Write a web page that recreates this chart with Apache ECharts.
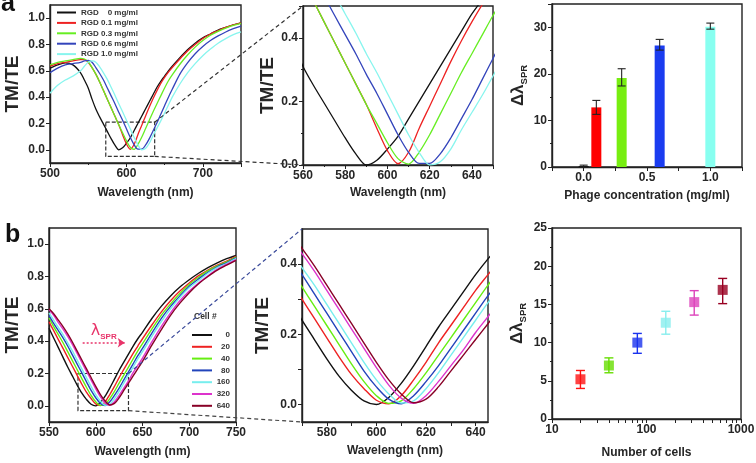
<!DOCTYPE html>
<html><head><meta charset="utf-8">
<script src="https://cdn.jsdelivr.net/npm/echarts@6/dist/echarts.min.js"></script>
<style>html,body{margin:0;padding:0;background:#fff}#c{width:756px;height:463px}</style>
</head><body><div id="c"></div>
<script>
// ---------- DATA ----------
const waveA = [500,510,520,530,540,545,550,555,560,565,570,575,580,585,590,595,600,605,610,615,620,625,630,635,640,645,650,655,660,670,680,690,700,710,720,730,740,750];
const rgd00 = [0.62,0.645,0.66,0.645,0.585,0.53,0.47,0.385,0.31,0.25,0.195,0.14,0.085,0.035,0.0,0.015,0.05,0.09,0.145,0.2,0.255,0.31,0.365,0.42,0.475,0.52,0.56,0.60,0.635,0.70,0.76,0.81,0.85,0.88,0.91,0.93,0.95,0.965];
const rgd01 = [0.635,0.655,0.665,0.675,0.685,0.685,0.665,0.625,0.575,0.515,0.45,0.385,0.32,0.255,0.19,0.115,0.045,0.004,0.04,0.115,0.185,0.255,0.325,0.39,0.45,0.505,0.55,0.59,0.625,0.69,0.75,0.80,0.845,0.88,0.905,0.93,0.95,0.965];
const rgd03 = [0.645,0.665,0.675,0.685,0.695,0.69,0.67,0.625,0.575,0.515,0.45,0.385,0.32,0.255,0.19,0.13,0.07,0.02,0.003,0.04,0.095,0.16,0.225,0.29,0.35,0.41,0.47,0.525,0.57,0.65,0.72,0.78,0.83,0.87,0.90,0.925,0.945,0.96];
const rgd06 = [0.585,0.62,0.645,0.655,0.665,0.675,0.68,0.665,0.625,0.58,0.53,0.47,0.41,0.35,0.285,0.225,0.16,0.095,0.04,0.005,0.005,0.035,0.085,0.145,0.205,0.27,0.335,0.40,0.46,0.575,0.66,0.73,0.785,0.83,0.865,0.895,0.92,0.94];
const rgd10 = [0.43,0.49,0.53,0.56,0.60,0.635,0.665,0.675,0.665,0.63,0.585,0.535,0.475,0.415,0.35,0.29,0.225,0.16,0.095,0.04,0.0,0.01,0.05,0.11,0.165,0.22,0.28,0.34,0.40,0.50,0.585,0.655,0.715,0.765,0.81,0.845,0.875,0.895];
const rgdNames = ['RGD    0 mg/ml','RGD 0.1 mg/ml','RGD 0.3 mg/ml','RGD 0.6 mg/ml','RGD 1.0 mg/ml'];

const concentrations = [0, 0.1, 0.3, 0.6, 1.0];
const shiftConc    = [0.2, 12.8, 19.1, 26.1, 30.1];
const errConcLow   = [0.0, 11.3, 17.4, 25.1, 29.6];
const errConcHigh  = [0.4, 14.3, 21.1, 27.4, 30.9];

const waveB = [550,555,560,565,570,575,580,585,590,595,600,605,610,615,620,625,630,635,640,645,650,660,670,680,690,700,710,720,730,740,750];
const cell0   = [0.48,0.42,0.36,0.30,0.24,0.185,0.13,0.08,0.04,0.01,0.0,0.02,0.06,0.11,0.165,0.22,0.27,0.32,0.37,0.415,0.455,0.54,0.615,0.68,0.735,0.78,0.82,0.855,0.885,0.91,0.93];
const cell20  = [0.52,0.465,0.41,0.355,0.30,0.245,0.19,0.135,0.085,0.045,0.012,0.002,0.025,0.07,0.12,0.175,0.225,0.275,0.325,0.37,0.415,0.50,0.58,0.65,0.71,0.76,0.805,0.84,0.87,0.895,0.925];
const cell40  = [0.545,0.49,0.44,0.39,0.335,0.28,0.225,0.17,0.115,0.065,0.025,0.003,0.01,0.045,0.09,0.14,0.19,0.24,0.29,0.34,0.385,0.475,0.56,0.63,0.695,0.75,0.795,0.835,0.865,0.89,0.92];
const cell80  = [0.56,0.51,0.465,0.42,0.37,0.315,0.26,0.205,0.15,0.095,0.05,0.015,0.002,0.025,0.065,0.11,0.16,0.21,0.26,0.31,0.355,0.45,0.54,0.615,0.68,0.74,0.785,0.825,0.86,0.885,0.915];
const cell160 = [0.575,0.53,0.485,0.44,0.39,0.34,0.285,0.23,0.175,0.12,0.07,0.03,0.004,0.01,0.045,0.09,0.14,0.19,0.24,0.29,0.335,0.43,0.52,0.60,0.67,0.73,0.775,0.82,0.855,0.88,0.91];
const cell320 = [0.595,0.56,0.515,0.475,0.43,0.38,0.325,0.27,0.215,0.16,0.105,0.055,0.018,0.003,0.025,0.065,0.11,0.155,0.205,0.25,0.295,0.395,0.49,0.575,0.65,0.71,0.76,0.805,0.845,0.875,0.905];
const cell640 = [0.60,0.57,0.53,0.49,0.445,0.395,0.34,0.285,0.23,0.175,0.12,0.07,0.03,0.005,0.015,0.05,0.095,0.14,0.185,0.23,0.275,0.375,0.47,0.56,0.635,0.70,0.755,0.80,0.84,0.87,0.90];
const cellNames = ['0','20','40','80','160','320','640'];

const cellCounts   = [20, 40, 80, 160, 320, 640];
const shiftCells   = [5.2, 7.0, 10.0, 12.6, 15.3, 16.9];
const errCellsLow  = [4.0, 6.05, 8.6, 11.1, 13.6, 15.1];
const errCellsHigh = [6.35, 8.0, 11.2, 14.1, 16.8, 18.4];

// ---------- STYLE ----------
const FONT = 'Liberation Sans, Arial, sans-serif';
const TXT = '#262626';
const colorsA = ['#111111','#ee2222','#66ee22','#3344bb','#88f5ee'];
const barColors = ['#111111','#ff0000','#77ee11','#1a3cf0','#88fff0'];
const colorsB = ['#111111','#ee2222','#66ee11','#2244bb','#77eeee','#dd33cc','#880026'];
const cellColors = ['#ff1111','#66dd00','#1a33ee','#88eeee','#dd44bb','#990022'];

function axis(grid, o) {
  const a = {
    gridIndex: grid, type: 'value',
    axisLine: {show: true, onZero: false, lineStyle: {color: '#222', width: 1.4}},
    axisTick: {show: true, length: 4, lineStyle: {color: '#222', width: 1}},
    axisLabel: {color: TXT, fontSize: 12, fontWeight: 'bold', fontFamily: FONT, margin: 5},
    splitLine: {show: false},
    nameLocation: 'middle',
    nameTextStyle: {color: TXT, fontSize: 12, fontWeight: 'bold', fontFamily: FONT}
  };
  for (const k in o) {
    if (typeof o[k] === 'object' && a[k] && !Array.isArray(o[k])) a[k] = Object.assign({}, a[k], o[k]);
    else a[k] = o[k];
  }
  return a;
}
const f1 = v => Number(v).toFixed(1);
const tmteName = {color: TXT, fontSize: 19, fontWeight: 'bold', fontFamily: FONT};
const dlName = {color: TXT, fontFamily: FONT, rich: {
  d: {fontSize: 17, lineHeight: 22, fontFamily: FONT, color: TXT},
  s: {fontSize: 9.5, lineHeight: 10, fontWeight: 'bold', fontFamily: FONT, color: TXT, verticalAlign: 'bottom'}
}};

// panel boxes: grid border gives the closed Origin-style frame
const grids = [
  {left: 50, top: 5, width: 191, height: 158},
  {left: 303, top: 6, width: 190, height: 159},
  {left: 552, top: 4, width: 190, height: 163},
  {left: 49, top: 228, width: 187, height: 194},
  {left: 302, top: 229, width: 186, height: 193},
  {left: 552, top: 228, width: 189, height: 191}
].map(g => Object.assign({show: true, borderColor: '#222', borderWidth: 1.4, backgroundColor: 'rgba(0,0,0,0)', outerBoundsMode: 'none'}, g));

const xAxes = [
  axis(0, {min: 500, max: 750, interval: 100, minorTick: {show: true, splitNumber: 2, length: 2}, axisLabel: {showMaxLabel: false}, name: 'Wavelength (nm)', nameGap: 24}),
  axis(1, {min: 560, max: 650, interval: 20, minorTick: {show: true, splitNumber: 2, length: 2}, axisLabel: {showMaxLabel: false}, name: 'Wavelength (nm)', nameGap: 22}),
  axis(2, {min: -0.25, max: 1.25, axisLabel: {customValues: [0, 0.5, 1.0], formatter: f1}, axisTick: {customValues: [-0.25, 0, 0.25, 0.5, 0.75, 1.0, 1.25]}, name: 'Phage concentration (mg/ml)', nameGap: 23}),
  axis(3, {min: 550, max: 750, interval: 50, name: 'Wavelength (nm)', nameGap: 24}),
  axis(4, {min: 570, max: 645, axisLabel: {customValues: [580, 600, 620, 640]}, axisTick: {customValues: [570, 580, 590, 600, 610, 620, 630, 640]}, name: 'Wavelength (nm)', nameGap: 23}),
  axis(5, {type: 'log', logBase: 10, min: 10, max: 1000, axisTick: {customValues: [10,20,30,40,50,60,70,80,90,100,200,300,400,500,600,700,800,900,1000]}, axisLabel: {customValues: [10, 100, 1000], formatter: v => String(Math.round(v))}, name: 'Number of cells', nameGap: 28})
].map(a => Object.assign(a, {position: 'bottom'}));

const yAxes = [
  axis(0, {min: -0.1, max: 1.1, axisLabel: {customValues: [0, 0.2, 0.4, 0.6, 0.8, 1.0], formatter: f1}, axisTick: {customValues: [0, 0.2, 0.4, 0.6, 0.8, 1.0]}, name: 'TM/TE', nameGap: 28, nameTextStyle: tmteName}),
  axis(1, {min: 0, max: 0.5, interval: 0.2, minorTick: {show: true, splitNumber: 2, length: 2}, axisLabel: {showMaxLabel: false, formatter: f1}, name: 'TM/TE', nameGap: 20, nameTextStyle: tmteName}),
  axis(2, {min: 0, max: 35, interval: 10, minorTick: {show: true, splitNumber: 2, length: 2}, axisLabel: {showMaxLabel: false}, name: '{d|Δλ}{s|SPR}', nameGap: 20, nameTextStyle: dlName}),
  axis(3, {min: -0.1, max: 1.1, axisLabel: {customValues: [0, 0.2, 0.4, 0.6, 0.8, 1.0], formatter: f1}, axisTick: {customValues: [0, 0.2, 0.4, 0.6, 0.8, 1.0]}, name: 'TM/TE', nameGap: 27, nameTextStyle: tmteName}),
  axis(4, {min: -0.05, max: 0.5, axisLabel: {customValues: [0, 0.2, 0.4], formatter: f1}, axisTick: {customValues: [0, 0.1, 0.2, 0.3, 0.4]}, name: 'TM/TE', nameGap: 30, nameTextStyle: tmteName}),
  axis(5, {min: 0, max: 25, interval: 5, minorTick: {show: true, splitNumber: 2, length: 2}, name: '{d|Δλ}{s|SPR}', nameGap: 24, nameTextStyle: dlName})
].map(a => Object.assign(a, {position: 'left'}));

const series = [];
const rgdData = [rgd00, rgd01, rgd03, rgd06, rgd10];
rgdData.forEach((arr, i) => {
  [0, 1].forEach(g => {
    const s = {
      type: 'line', name: rgdNames[i], xAxisIndex: g, yAxisIndex: g,
      data: waveA.map((w, j) => [w, arr[j]]), showSymbol: false, smooth: 0.3,
      lineStyle: {color: colorsA[i], width: 1.3}, itemStyle: {color: colorsA[i]}, z: 3
    };
    if (g === 0 && i === 0) {
      s.markArea = {silent: true, itemStyle: {color: 'rgba(0,0,0,0)', borderColor: '#333', borderWidth: 1.2, borderType: [4, 2]},
        data: [[{coord: [573, 0.21]}, {coord: [637, -0.05]}]]};
    }
    series.push(s);
  });
});

series.push({
  type: 'bar', xAxisIndex: 2, yAxisIndex: 2, barWidth: 10,
  data: concentrations.map((c, i) => ({value: [c, shiftConc[i]], itemStyle: {color: barColors[i]}}))
});
series.push({
  type: 'custom', xAxisIndex: 2, yAxisIndex: 2, z: 5,
  data: concentrations.map((c, i) => [c, errConcLow[i], errConcHigh[i]]),
  renderItem: (p, api) => {
    const x = api.value(0);
    const lo = api.coord([x, api.value(1)]);
    const hi = api.coord([x, api.value(2)]);
    const w = 4, st = {stroke: '#222', lineWidth: 1.1};
    return {type: 'group', children: [
      {type: 'line', shape: {x1: lo[0], y1: lo[1], x2: hi[0], y2: hi[1]}, style: st},
      {type: 'line', shape: {x1: hi[0]-w, y1: hi[1], x2: hi[0]+w, y2: hi[1]}, style: st},
      {type: 'line', shape: {x1: lo[0]-w, y1: lo[1], x2: lo[0]+w, y2: lo[1]}, style: st}
    ]};
  }
});

const cellData = [cell0, cell20, cell40, cell80, cell160, cell320, cell640];
cellData.forEach((arr, i) => {
  [3, 4].forEach(g => {
    const s = {
      type: 'line', name: cellNames[i], xAxisIndex: g, yAxisIndex: g,
      data: waveB.map((w, j) => [w, arr[j]]), showSymbol: false, smooth: 0.3,
      lineStyle: {color: colorsB[i], width: 1.4}, itemStyle: {color: colorsB[i]}, z: 3
    };
    if (g === 3 && i === 0) {
      s.markArea = {silent: true, itemStyle: {color: 'rgba(0,0,0,0)', borderColor: '#333', borderWidth: 1.2, borderType: [4, 2]},
        data: [[{coord: [581, 0.2]}, {coord: [635, -0.03]}]]};
      s.markLine = {silent: true, symbol: ['none', 'arrow'], symbolSize: 7, animation: false,
        lineStyle: {type: [2, 2], color: '#e8346a', width: 1.5},
        label: {show: true, position: 'middle', distance: 2, formatter: '{l|λ}{s|SPR}',
          rich: {l: {fontSize: 16, lineHeight: 20, color: '#e8346a', fontFamily: 'DejaVu Sans'},
                 s: {fontSize: 8, lineHeight: 9, color: '#e8346a', fontWeight: 'bold', fontFamily: FONT, verticalAlign: 'bottom'}}},
        data: [[{coord: [586, 0.39]}, {coord: [631, 0.39]}]]};
    }
    series.push(s);
  });
});

series.push({
  type: 'custom', xAxisIndex: 5, yAxisIndex: 5, z: 4,
  data: cellCounts.map((c, i) => [c, errCellsLow[i], errCellsHigh[i]]),
  renderItem: (p, api) => {
    const x = api.value(0);
    const lo = api.coord([x, api.value(1)]);
    const hi = api.coord([x, api.value(2)]);
    const w = 4.5, st = {stroke: cellColors[p.dataIndex], lineWidth: 1.4};
    return {type: 'group', children: [
      {type: 'line', shape: {x1: lo[0], y1: lo[1], x2: hi[0], y2: hi[1]}, style: st},
      {type: 'line', shape: {x1: hi[0]-w, y1: hi[1], x2: hi[0]+w, y2: hi[1]}, style: st},
      {type: 'line', shape: {x1: lo[0]-w, y1: lo[1], x2: lo[0]+w, y2: lo[1]}, style: st}
    ]};
  }
});
series.push({
  type: 'scatter', xAxisIndex: 5, yAxisIndex: 5, symbol: 'rect', symbolSize: 10, z: 5,
  data: cellCounts.map((c, i) => ({value: [c, shiftCells[i]], itemStyle: {color: cellColors[i]}}))
});

const legendText = {fontSize: 8, fontWeight: 'bold', color: '#333', fontFamily: FONT};
const option = {
  animation: false,
  backgroundColor: '#fff',
  title: [
    {text: 'a', left: 1, top: -8, padding: 0, textStyle: {fontSize: 25, fontWeight: 'bold', color: '#111', fontFamily: FONT}},
    {text: 'b', left: 5, top: 223, padding: 0, textStyle: {fontSize: 25, fontWeight: 'bold', color: '#111', fontFamily: FONT}},
    {text: 'Cell #', left: 194, top: 312, padding: 0, textStyle: {fontSize: 8.5, fontWeight: 'bold', color: '#333', fontFamily: FONT}}
  ],
  legend: [
    {data: rgdNames, orient: 'vertical', left: 57, top: 8.5, padding: 0, itemWidth: 19, itemHeight: 2, itemGap: 2.4,
      icon: 'rect', textStyle: legendText, selectedMode: false},
    {data: cellNames, orient: 'vertical', left: 192, top: 331, padding: 0, itemWidth: 20, itemHeight: 2, itemGap: 3.8,
      icon: 'rect', selectedMode: false, formatter: '{n|{name}}',
      textStyle: Object.assign({}, legendText, {rich: {n: {width: 13, align: 'right', fontSize: 8, fontWeight: 'bold', color: '#333', fontFamily: FONT}}})}
  ],
  grid: grids,
  xAxis: xAxes,
  yAxis: yAxes,
  series: series
};

const chart = echarts.init(document.getElementById('c'), null, {renderer: 'canvas'});
chart.setOption(option);

// connector lines between the overview boxes and the zoomed panels, placed through the axes' scales
function px(g, pt) { return chart.convertToPixel({gridIndex: g}, pt); }
function dashLine(a, b, color) {
  return {type: 'line', z: 100, silent: true, shape: {x1: a[0], y1: a[1], x2: b[0], y2: b[1]},
    style: {stroke: color, lineWidth: 1.2, lineDash: [4, 3]}};
}
chart.setOption({graphic: [
  dashLine(px(0, [637, 0.21]), px(1, [560, 0.5]), '#333'),
  dashLine(px(0, [637, -0.05]), px(1, [560, 0]), '#333'),
  dashLine(px(3, [635, 0.2]), px(4, [570, 0.5]), '#3a4a9a'),
  dashLine(px(3, [635, -0.03]), px(4, [570, -0.05]), '#444')
]});
</script>
</body></html>
